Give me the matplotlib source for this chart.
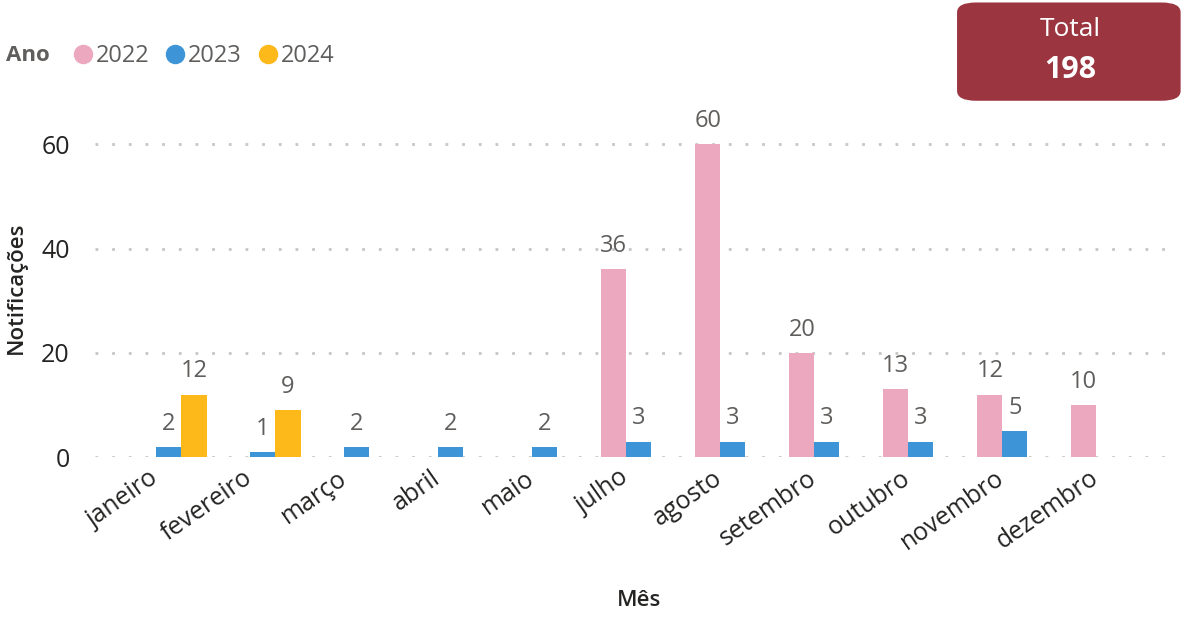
import numpy as np
import matplotlib.pyplot as plt
import matplotlib.transforms as mtransforms
from matplotlib.patches import FancyBboxPatch
from matplotlib.lines import Line2D

plt.rcParams['font.family'] = ['Open Sans', 'DejaVu Sans']

meses = ['janeiro', 'fevereiro', 'março', 'abril', 'maio', 'julho',
         'agosto', 'setembro', 'outubro', 'novembro', 'dezembro']
anos = ['2022', '2023', '2024']
v2022 = [np.nan, np.nan, np.nan, np.nan, np.nan, 36, 60, 20, 13, 12, 10]
v2023 = [2, 1, 2, 2, 2, 3, 3, 3, 3, 5, np.nan]
v2024 = [12, 9, np.nan, np.nan, np.nan, np.nan, np.nan, np.nan, np.nan, np.nan, np.nan]
total = 198

cores = ['#EBA8BE', '#3D95D8', '#FDB81A']
series = [v2022, v2023, v2024]

fig = plt.figure(figsize=(11.83, 6.22), dpi=100)
ax = fig.add_axes([0.080, 0.265, 0.913, 0.545])

x = np.arange(len(meses))
w = 0.267
for i, (vals, cor) in enumerate(zip(series, cores)):
    pos = x + (i - 1) * w
    ax.bar(pos, vals, width=w, color=cor, zorder=3)
    for p, v in zip(pos, vals):
        if not np.isnan(v):
            ax.annotate(f'{int(v)}', (p, v), xytext=(0, 8), textcoords='offset points',
                        ha='center', va='bottom', fontsize=17, color='#605E5C')

ax.set_xlim(-0.79, 10.70)
ax.set_ylim(0, 65)
ax.set_yticks([0, 20, 40, 60])
ax.yaxis.grid(True, color='#C8C6C4', linestyle=(0, (1, 5)), linewidth=2, zorder=0)
ax.set_axisbelow(True)
for s in ax.spines.values():
    s.set_visible(False)
ax.tick_params(axis='both', length=0, labelsize=18, colors='#252423')
ax.tick_params(axis='y', pad=18)
ax.set_xticks(x)
ax.set_xticklabels(meses, rotation=35, ha='right', rotation_mode='anchor')
ax.tick_params(axis='x', pad=6)
desloc = mtransforms.ScaledTranslation(-20 / 100, 0, fig.dpi_scale_trans)
for lbl in ax.get_xticklabels():
    lbl.set_transform(lbl.get_transform() + desloc)

fig.text(0.540, 0.035, 'Mês', fontsize=16, color='#252423', ha='center', va='center',
         fontweight='semibold')
ax.set_ylabel('Notificações', fontsize=16, color='#252423', labelpad=10,
              fontweight='semibold')

# legenda
fig.text(0.005, 0.91, 'Ano', fontsize=16, fontweight='bold', color='#605E5C', va='center')
handles = [Line2D([], [], marker='o', linestyle='', markersize=13, color=c) for c in cores]
fig.legend(handles, anos, loc='center left', bbox_to_anchor=(0.041, 0.91), ncol=3,
           frameon=False, fontsize=17, labelcolor='#605E5C', handletextpad=0.0,
           columnspacing=0.55, handlelength=1.1)

# cartão total
box = FancyBboxPatch((0.809, 0.838), 0.189, 0.158, boxstyle='round,pad=0,rounding_size=0.016',
                     transform=fig.transFigure, facecolor='#9B3640', edgecolor='none')
fig.patches.append(box)
fig.text(0.905, 0.952, 'Total', fontsize=19, color='white', ha='center', va='center')
fig.text(0.905, 0.888, str(total), fontsize=22, fontweight='bold', color='white',
         ha='center', va='center')

fig.savefig('out.png', dpi=100)
